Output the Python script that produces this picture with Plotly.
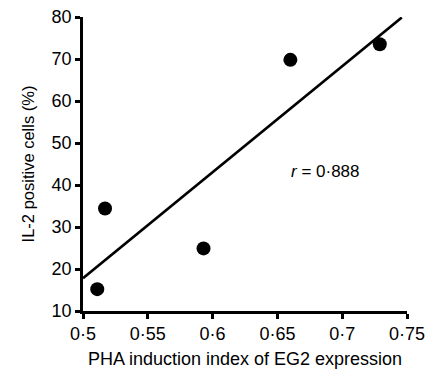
import numpy as np
import plotly.graph_objects as go

# Data
pha_index = [0.511, 0.517, 0.593, 0.660, 0.729]
il2_positive = [15.2, 34.4, 24.9, 69.8, 73.5]
fit_x_range = [0.5, 0.746]
r_label = "<i>r</i> = 0·888"

x_tick_vals = [0.5, 0.55, 0.6, 0.65, 0.7, 0.75]
x_tick_text = ["0·5", "0·55", "0·6", "0·65", "0·7", "0·75"]
y_tick_vals = [10, 20, 30, 40, 50, 60, 70, 80]

slope, intercept = np.polyfit(pha_index, il2_positive, 1)
fit_y = [slope * x + intercept for x in fit_x_range]

FONT = "Liberation Sans, Arial, sans-serif"

fig = go.Figure()
fig.add_trace(go.Scatter(x=fit_x_range, y=fit_y, mode="lines",
                         line=dict(color="black", width=2.6), hoverinfo="skip",
                         cliponaxis=False))
fig.add_trace(go.Scatter(x=pha_index, y=il2_positive, mode="markers",
                         marker=dict(color="black", size=14), cliponaxis=False))

fig.add_annotation(x=0.687, y=43.3, text=r_label, showarrow=False,
                   font=dict(family=FONT, size=17, color="black"))

fig.update_layout(
    width=429, height=377,
    margin=dict(l=83, r=22, t=17, b=66),
    paper_bgcolor="white", plot_bgcolor="white",
    showlegend=False,
    font=dict(family=FONT, size=16, color="black"),
)
fig.update_xaxes(range=[0.5, 0.75], tickvals=x_tick_vals, ticktext=x_tick_text,
                 showgrid=False, zeroline=False, showline=True, linecolor="black",
                 linewidth=2.5, ticks="outside", ticklen=5, tickwidth=2.5, tickcolor="black",
                 tickfont=dict(size=18), automargin=False, ticklabeloverflow="allow",
                 title=dict(text="PHA induction index of EG2 expression", font=dict(size=18), standoff=10))
fig.update_yaxes(range=[10, 80], tickvals=y_tick_vals,
                 showgrid=False, zeroline=False, showline=True, linecolor="black",
                 linewidth=2.5, ticks="outside", ticklen=5, tickwidth=2.5, tickcolor="black",
                 tickfont=dict(size=18), automargin=False, ticklabeloverflow="allow",
                 title=dict(text="IL-2 positive cells (%)", font=dict(size=16.5), standoff=13))

# remove the browser's default 8px body margin so the figure fills the window exactly
fig.write_html("out.html", config={"displayModeBar": False},
               post_script="document.body.style.margin='0px';")
